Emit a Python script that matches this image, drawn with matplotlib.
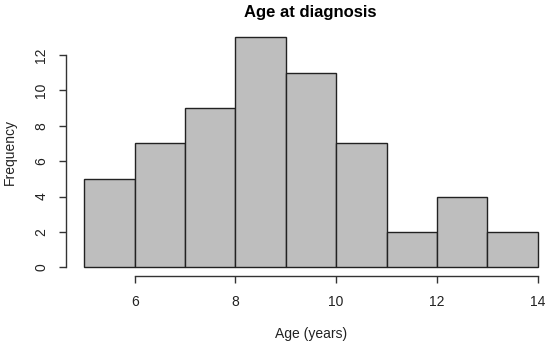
import numpy as np
import matplotlib.pyplot as plt

# Histogram of age at diagnosis (bin edges in years, counts per bin)
bin_edges = [5, 6, 7, 8, 9, 10, 11, 12, 13, 14]
counts = [5, 7, 9, 13, 11, 7, 2, 4, 2]
x_ticks = [6, 8, 10, 12, 14]
y_ticks = [0, 2, 4, 6, 8, 10, 12]

plt.rcParams['font.family'] = ['Liberation Sans', 'DejaVu Sans']

fig = plt.figure(figsize=(5.5, 3.46), dpi=100)
ax = fig.add_axes([0.1204, 0.2009, 0.890, 0.718])

ax.hist(bin_edges[:-1], bins=bin_edges, weights=counts,
        color='#bebebe', edgecolor='#222222', linewidth=1)

ax.set_xlim(4.64, 14.36)
ax.set_ylim(-0.52, 13.52)

ax.spines['top'].set_visible(False)
ax.spines['right'].set_visible(False)
ax.spines['left'].set_bounds(0, 12)
ax.spines['bottom'].set_bounds(6, 14)
for s in ('left', 'bottom'):
    ax.spines[s].set_color('#333333')
    ax.spines[s].set_linewidth(1)

ax.set_xticks(x_ticks)
ax.set_yticks(y_ticks)
ax.tick_params(axis='both', length=5, width=1, color='#333333',
               labelsize=10, labelcolor='#222222', pad=8)
plt.setp(ax.get_yticklabels(), rotation=90, va='center')

fig.text(0.565, 0.965, 'Age at diagnosis', ha='center', va='center',
         fontsize=12, fontweight='bold')
fig.text(0.565, 0.035, 'Age (years)', ha='center', va='center', fontsize=10,
         color='#222222')
fig.text(0.018, 0.56, 'Frequency', ha='center', va='center', rotation=90,
         fontsize=10, color='#222222')

fig.savefig('out.png', dpi=100)
